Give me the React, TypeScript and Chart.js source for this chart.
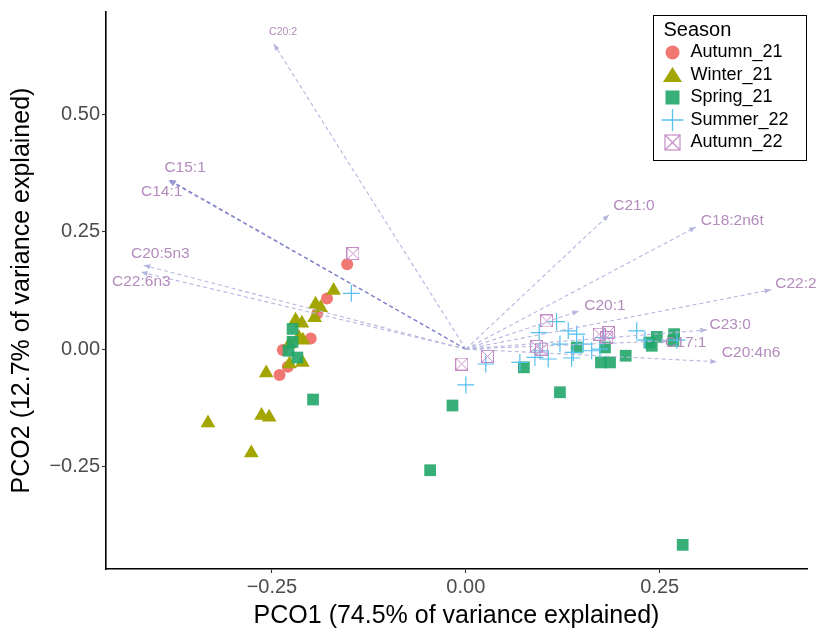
import React, { useEffect, useRef } from 'react';
import { Chart, registerables } from 'chart.js';

Chart.register(...registerables);

// ---------------- DATA ----------------
const X_TICKS = [-0.25, 0, 0.25];
const Y_TICKS = [-0.25, 0, 0.25, 0.5];
const X_MIN = -0.464;
const X_MAX = 0.44;
const Y_MIN = -0.4695;
const Y_MAX = 0.7196;

const X_TITLE = 'PCO1 (74.5% of variance explained)';
const Y_TITLE = 'PCO2 (12.7% of variance explained)';
const LEGEND_TITLE = 'Season';
const seasons = ['Autumn_21', 'Winter_21', 'Spring_21', 'Summer_22', 'Autumn_22'];

const autumn21: [number, number][] = [
  [-0.153, 0.181], [-0.179, 0.108], [-0.1915, 0.0757], [-0.2, 0.0225],
  [-0.236, -0.002], [-0.2295, -0.0376], [-0.2402, -0.0553],
];

const winter21: [number, number][] = [
  [-0.1705, 0.125], [-0.1937, 0.0956], [-0.1872, 0.0884], [-0.195, 0.067],
  [-0.2195, 0.0616], [-0.2114, 0.0553], [-0.2101, 0.019], [-0.2153, 0.0247],
  [-0.2273, 0.0106], [-0.2107, -0.0285], [-0.2273, -0.0319], [-0.2574, -0.051],
  [-0.3325, -0.158], [-0.2634, -0.1417], [-0.2536, -0.1453], [-0.2766, -0.2218],
];

const spring21: [number, number][] = [
  [-0.2234, 0.043], [-0.2234, 0.0155], [-0.2286, -0.0036], [-0.2172, -0.018],
  [-0.197, -0.1077], [-0.0172, -0.1205], [-0.046, -0.2586], [0.0749, -0.039],
  [0.1214, -0.0922], [0.2797, -0.418], [0.143, 0.0034], [0.1795, 0.0034],
  [0.1743, -0.0285], [0.186, -0.0285], [0.2062, -0.0142], [0.2367, 0.014],
  [0.2463, 0.026], [0.2398, 0.007], [0.2686, 0.0319], [0.2677, 0.0176],
];

const summer22: [number, number][] = [
  [-0.1476, 0.119], [0.0, -0.0765], [0.0258, -0.0319], [0.1171, 0.0586],
  [0.0947, 0.0353], [0.1214, 0.0106], [0.0956, -0.0036], [0.0697, -0.0285],
  [0.0891, -0.0178], [0.1063, -0.0212], [0.1321, 0.0389], [0.1365, -0.0191],
  [0.143, 0.0319], [0.1515, 0.0106], [0.1623, -0.0036], [0.1773, 0.0247],
  [0.173, 0.0], [0.2204, 0.0389], [0.2311, 0.0191], [0.2721, 0.0191],
  [0.1386, -0.0072],
];

const autumn22: [number, number][] = [
  [-0.1455, 0.204], [-0.0052, -0.0319], [0.028, -0.0157], [0.1042, 0.0601],
  [0.0913, 0.0055], [0.0978, 0.0], [0.1721, 0.0319], [0.1838, 0.0353],
  [0.1817, 0.0247],
];

// fatty-acid vectors (arrow tips) and label anchor points (data units)
const vectorNames = ['C20:2', 'C15:1', 'C14:1', 'C20:5n3', 'C22:6n3', 'C21:0',
  'C18:2n6t', 'C22:2', 'C20:1', 'C23:0', 'C17:1', 'C20:4n6'];
const vectorX = [-0.2476, -0.3822, -0.3835, -0.4154, -0.4188, 0.1847,
  0.2966, 0.3939, 0.1459, 0.3108, 0.2608, 0.3237];
const vectorY = [0.6515, 0.3612, 0.36, 0.1791, 0.1643, 0.2869,
  0.2605, 0.1266, 0.0814, 0.041, 0.0176, -0.027];
const labelX = [-0.2537, -0.3887, -0.4188, -0.4317, -0.4562, 0.1902,
  0.3031, 0.399, 0.1528, 0.3142, 0.257, 0.3302];
const labelY = [0.6766, 0.388, 0.3364, 0.2031, 0.1436, 0.3066,
  0.2748, 0.1394, 0.0935, 0.051, 0.0134, -0.0085];

// ---------------- STYLE ----------------
const FONT = '"Liberation Sans", Arial, Helvetica, sans-serif';
const COLORS = {
  Autumn_21: 'rgba(240,112,107,0.95)',
  Winter_21: '#a3a500',
  Spring_21: 'rgba(34,166,106,0.9)',
  Summer_22: '#56c0ee',
  Autumn_22: '#c58bc7',
};
const LABEL_COLOR = '#b38bbd';
const SMALL_LABELS = ['C20:2'];
const VECTOR_COLORS: Record<string, string> = { 'C15:1': '#7c7cc8', 'C14:1': '#9c9cd6' };
const LIGHT_VECTOR_COLOR = '#b6b6de';

function makeBoxX(size: number, color: string) {
  const c = document.createElement('canvas');
  c.width = size;
  c.height = size;
  const g = c.getContext('2d')!;
  g.strokeStyle = color;
  g.lineWidth = 1;
  g.strokeRect(0.5, 0.5, size - 1, size - 1);
  g.beginPath();
  g.moveTo(0.5, 0.5);
  g.lineTo(size - 0.5, size - 0.5);
  g.moveTo(size - 0.5, 0.5);
  g.lineTo(0.5, size - 0.5);
  g.stroke();
  return c;
}

function drawLegendMarker(ctx: CanvasRenderingContext2D, season: string, x: number, y: number) {
  const col = (COLORS as any)[season];
  ctx.save();
  ctx.fillStyle = col;
  ctx.strokeStyle = col;
  if (season === 'Autumn_21') {
    ctx.beginPath();
    ctx.arc(x, y, 7, 0, Math.PI * 2);
    ctx.fill();
  } else if (season === 'Winter_21') {
    ctx.beginPath();
    ctx.moveTo(x, y - 8);
    ctx.lineTo(x + 9.5, y + 7);
    ctx.lineTo(x - 9.5, y + 7);
    ctx.closePath();
    ctx.fill();
  } else if (season === 'Spring_21') {
    ctx.fillRect(x - 7, y - 7, 14, 14);
  } else if (season === 'Summer_22') {
    ctx.lineWidth = 1.3;
    ctx.beginPath();
    ctx.moveTo(x - 11, y);
    ctx.lineTo(x + 11, y);
    ctx.moveTo(x, y - 11);
    ctx.lineTo(x, y + 11);
    ctx.stroke();
  } else {
    ctx.lineWidth = 1.2;
    ctx.strokeRect(x - 7.5, y - 7.5, 15, 15);
    ctx.beginPath();
    ctx.moveTo(x - 7.5, y - 7.5);
    ctx.lineTo(x + 7.5, y + 7.5);
    ctx.moveTo(x + 7.5, y - 7.5);
    ctx.lineTo(x - 7.5, y + 7.5);
    ctx.stroke();
  }
  ctx.restore();
}

const toPts = (arr: [number, number][]) => arr.map(([x, y]) => ({ x, y }));

const vectorPlugin = {
  id: 'vectorHeadsAndLabels',
  afterDatasetsDraw(chart: any) {
    const ctx = chart.ctx as CanvasRenderingContext2D;
    const xs = chart.scales.x;
    const ys = chart.scales.y;
    ctx.save();
    chart.data.datasets.forEach((ds: any, di: number) => {
      if (ds._vectorIndex === undefined) return;
      const meta = chart.getDatasetMeta(di);
      const p0 = meta.data[0];
      const p1 = meta.data[1];
      const ang = Math.atan2(p1.y - p0.y, p1.x - p0.x);
      const len = 6.5;
      const hw = 2.6;
      ctx.fillStyle = ds.borderColor;
      ctx.beginPath();
      ctx.moveTo(p1.x, p1.y);
      ctx.lineTo(p1.x - len * Math.cos(ang) + hw * Math.sin(ang), p1.y - len * Math.sin(ang) - hw * Math.cos(ang));
      ctx.lineTo(p1.x - len * Math.cos(ang) - hw * Math.sin(ang), p1.y - len * Math.sin(ang) + hw * Math.cos(ang));
      ctx.closePath();
      ctx.fill();
    });
    vectorNames.forEach((name, i) => {
      const size = SMALL_LABELS.includes(name) ? 10.5 : 15.5;
      ctx.font = `${size}px ${FONT}`;
      ctx.fillStyle = LABEL_COLOR;
      ctx.textAlign = 'left';
      ctx.textBaseline = 'middle';
      ctx.fillText(name, xs.getPixelForValue(labelX[i]), ys.getPixelForValue(labelY[i]));
    });
    ctx.restore();
  },
};

const legendPlugin = {
  id: 'seasonLegend',
  afterDraw(chart: any) {
    const ctx = chart.ctx as CanvasRenderingContext2D;
    const area = chart.chartArea;
    const w = 153;
    const h = 145;
    const left = area.right - w - 1.5;
    const top = area.top + 2.5;
    ctx.save();
    ctx.fillStyle = '#ffffff';
    ctx.fillRect(left, top, w, h);
    ctx.strokeStyle = '#000';
    ctx.lineWidth = 1;
    ctx.strokeRect(Math.round(left) + 0.5, Math.round(top) + 0.5, w, h);
    ctx.fillStyle = '#000';
    ctx.textAlign = 'left';
    ctx.textBaseline = 'middle';
    ctx.font = `20px ${FONT}`;
    ctx.fillText(LEGEND_TITLE, left + 11, top + 15.5);
    ctx.font = `18px ${FONT}`;
    seasons.forEach((s, i) => {
      const cy = top + 38 + i * 22.5;
      drawLegendMarker(ctx, s, left + 20, cy);
      ctx.fillStyle = '#000';
      ctx.fillText(s, left + 38, cy);
    });
    ctx.restore();
  },
};

export default function App() {
  const ref = useRef<HTMLCanvasElement | null>(null);

  useEffect(() => {
    if (!ref.current) return;
    Chart.defaults.font.family = FONT;

    const pointSets = [
      { label: 'Autumn_21', data: toPts(autumn21), pointStyle: 'circle', pointRadius: 6, backgroundColor: COLORS.Autumn_21, borderColor: COLORS.Autumn_21, pointBorderWidth: 0, order: 5 },
      { label: 'Winter_21', data: toPts(winter21), pointStyle: 'triangle', pointRadius: 8.5, backgroundColor: COLORS.Winter_21, borderColor: COLORS.Winter_21, pointBorderWidth: 0, order: 4 },
      { label: 'Spring_21', data: toPts(spring21), pointStyle: 'rect', pointRadius: 8.3, backgroundColor: COLORS.Spring_21, borderColor: COLORS.Spring_21, pointBorderWidth: 0, order: 3 },
      { label: 'Summer_22', data: toPts(summer22), pointStyle: 'cross', pointRadius: 8.5, backgroundColor: COLORS.Summer_22, borderColor: COLORS.Summer_22, pointBorderWidth: 1.2, order: 2 },
      { label: 'Autumn_22', data: toPts(autumn22), pointStyle: makeBoxX(13, COLORS.Autumn_22), pointRadius: 6, backgroundColor: COLORS.Autumn_22, borderColor: COLORS.Autumn_22, pointBorderWidth: 0, order: 1 },
    ];

    const vectorSets = vectorNames.map((name, i) => ({
      label: name,
      _vectorIndex: i,
      data: [{ x: 0, y: 0 }, { x: vectorX[i], y: vectorY[i] }],
      showLine: true,
      borderColor: VECTOR_COLORS[name] || LIGHT_VECTOR_COLOR,
      backgroundColor: 'transparent',
      borderWidth: 1.1,
      borderDash: [4, 3],
      pointRadius: 0,
      order: 0,
    }));

    const chart = new Chart(ref.current, {
      type: 'scatter',
      data: { datasets: [...pointSets, ...vectorSets] as any },
      options: {
        responsive: false,
        animation: false,
        events: [],
        layout: { padding: { top: 10, right: 10, left: 0, bottom: 0 } },
        plugins: { legend: { display: false }, tooltip: { enabled: false } },
        scales: {
          x: {
            type: 'linear',
            min: X_MIN,
            max: X_MAX,
            afterBuildTicks: (s: any) => { s.ticks = X_TICKS.map((v) => ({ value: v })); },
            afterFit: (s: any) => { s.height = 64; },
            grid: { display: true, drawOnChartArea: false, drawTicks: true, tickLength: 4, tickColor: '#333', tickWidth: 1.1 },
            border: { display: true, color: '#000', width: 1.6 },
            ticks: {
              padding: 4,
              color: '#4d4d4d',
              font: { size: 20, lineHeight: 1 },
              maxRotation: 0,
              callback: (v: any) => (v < 0 ? '\u2212' : '') + Math.abs(Number(v)).toFixed(2),
            },
            title: { display: true, text: X_TITLE, color: '#000', font: { size: 25, lineHeight: 1.2 }, padding: { top: 0, bottom: 2 } },
          },
          y: {
            type: 'linear',
            min: Y_MIN,
            max: Y_MAX,
            afterBuildTicks: (s: any) => { s.ticks = Y_TICKS.map((v) => ({ value: v })); },
            afterFit: (s: any) => { s.width = 106; },
            grid: { display: true, drawOnChartArea: false, drawTicks: true, tickLength: 4, tickColor: '#333', tickWidth: 1.1 },
            border: { display: true, color: '#000', width: 1.6 },
            ticks: {
              padding: 2,
              color: '#4d4d4d',
              font: { size: 20, lineHeight: 1 },
              callback: (v: any) => (v < 0 ? '\u2212' : '') + Math.abs(Number(v)).toFixed(2),
            },
            title: { display: true, text: Y_TITLE, color: '#000', font: { size: 25, lineHeight: 1.2 }, padding: { top: 7, bottom: 0 } },
          },
        },
      },
      plugins: [vectorPlugin, legendPlugin],
    } as any);

    return () => chart.destroy();
  }, []);

  return (
    <div style={{ position: 'fixed', left: 0, top: 0, width: 817, height: 633, background: '#fff' }}>
      <canvas ref={ref} width={817} height={633} style={{ display: 'block', width: 817, height: 633 }} />
    </div>
  );
}
